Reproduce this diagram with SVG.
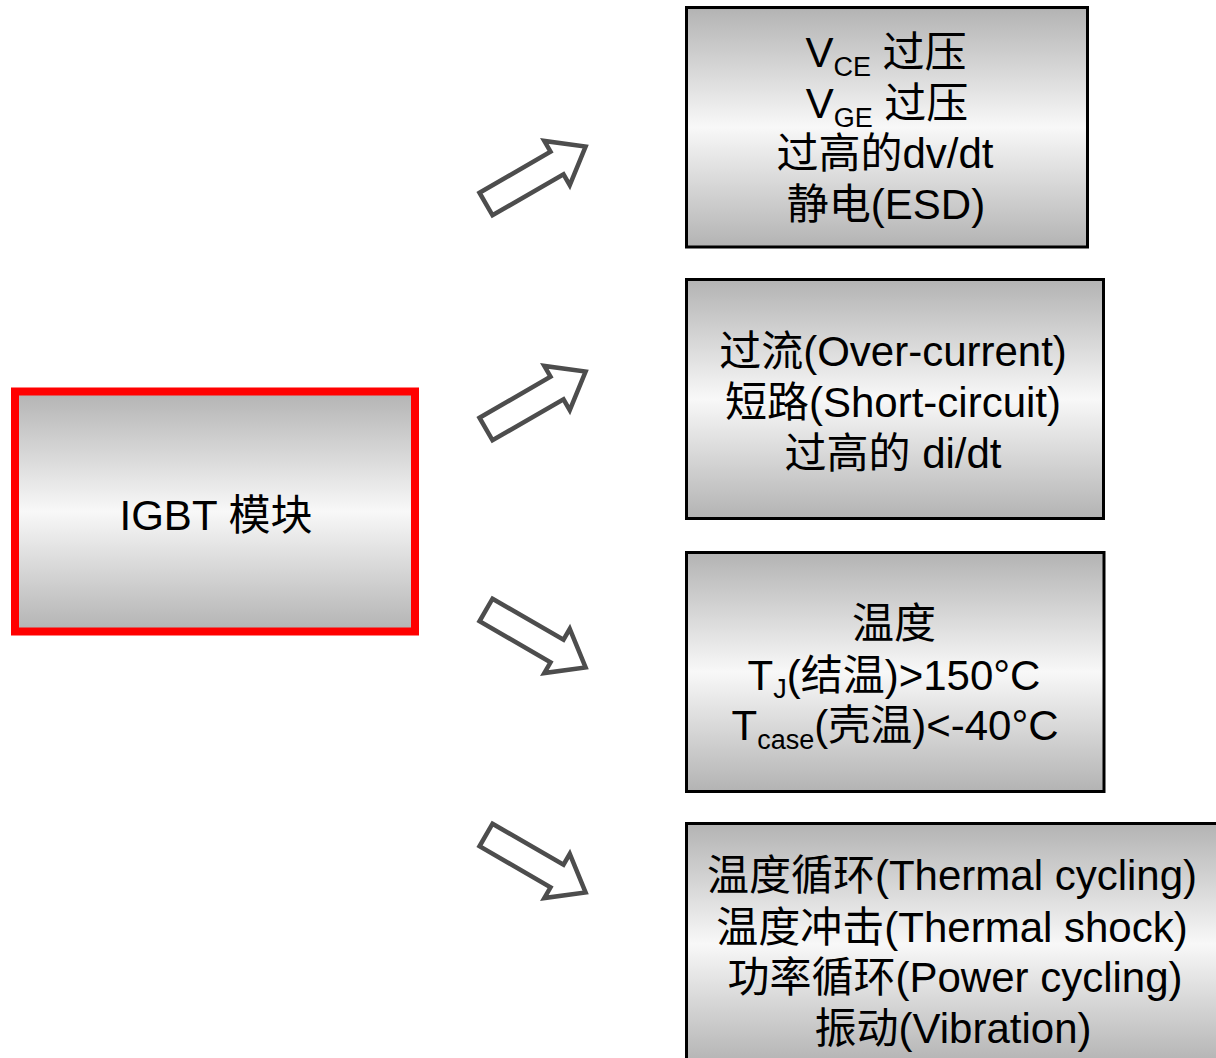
<svg xmlns="http://www.w3.org/2000/svg" width="1216" height="1058" viewBox="0 0 1216 1058">
<defs>
  <linearGradient id="silver" x1="0" y1="0" x2="0" y2="1">
    <stop offset="0" stop-color="#b3b3b3"/>
    <stop offset="0.5" stop-color="#f8f8f8"/>
    <stop offset="1" stop-color="#b3b3b3"/>
  </linearGradient>
  <path id="blockArrow" d="M0,-13 H82 V-25.5 L115,0 L82,25.5 V13 H0 Z"/>
</defs>
<style>
  .box { fill: url(#silver); stroke: #000; stroke-width: 3; }
  .main { fill: url(#silver); stroke: #ff0000; stroke-width: 8; }
  .t { font-family: "Liberation Sans", "Noto Sans CJK SC", sans-serif; font-size: 42px; fill: #000; text-anchor: middle; }
  .sub { font-size: 27px; }
  .arrow { fill: #fff; stroke: #4d4d4d; stroke-width: 4.5; stroke-linejoin: miter; }
</style>
<rect width="1216" height="1058" fill="#fff"/>

<g id="node-igbt">
  <rect class="main" x="15" y="391.5" width="400" height="240"/>
  <text class="t" x="216" y="530" font-size="44">IGBT 模块</text>
</g>

<g id="node-voltage">
  <rect class="box" x="686.5" y="7.5" width="401" height="239.5"/>
  <text class="t" x="886" y="67">V<tspan class="sub" dy="9">CE</tspan><tspan dy="-9"> 过压</tspan></text>
  <text class="t" x="887" y="117.5">V<tspan class="sub" dy="9">GE</tspan><tspan dy="-9"> 过压</tspan></text>
  <text class="t" x="885" y="168">过高的dv/dt</text>
  <text class="t" x="886" y="218.5">静电(ESD)</text>
</g>

<g id="node-current">
  <rect class="box" x="686.5" y="279.5" width="417" height="239"/>
  <text class="t" x="893" y="366">过流(Over-current)</text>
  <text class="t" x="893" y="417">短路(Short-circuit)</text>
  <text class="t" x="893" y="468">过高的 di/dt</text>
</g>

<g id="node-temperature">
  <rect class="box" x="686.5" y="552.5" width="417.5" height="239"/>
  <text class="t" x="894" y="638">温度</text>
  <text class="t" x="894" y="690">T<tspan class="sub" dy="8">J</tspan><tspan dy="-8">(结温)&gt;150°C</tspan></text>
  <text class="t" x="895" y="740">T<tspan class="sub" dy="9">case</tspan><tspan dy="-9">(壳温)&lt;-40°C</tspan></text>
</g>

<g id="node-cycling">
  <rect class="box" x="686.5" y="823.5" width="534" height="241"/>
  <text class="t" x="952" y="890" font-size="41.5">温度循环(Thermal cycling)</text>
  <text class="t" x="952" y="941.5" font-size="41.5">温度冲击(Thermal shock)</text>
  <text class="t" x="955" y="992" font-size="41.5">功率循环(Power cycling)</text>
  <text class="t" x="953" y="1043" font-size="41.5">振动(Vibration)</text>
</g>

<g id="connectors">
  <use href="#blockArrow" class="arrow" transform="translate(486,204) rotate(-30)"/>
  <use href="#blockArrow" class="arrow" transform="translate(486,429) rotate(-30)"/>
  <use href="#blockArrow" class="arrow" transform="translate(486,610) rotate(30)"/>
  <use href="#blockArrow" class="arrow" transform="translate(486,835) rotate(30)"/>
</g>
</svg>
